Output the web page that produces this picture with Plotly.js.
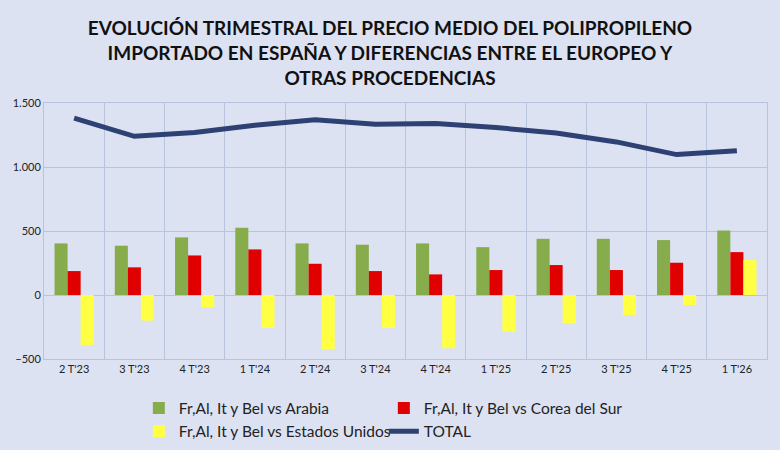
<!DOCTYPE html>
<html>
<head>
<meta charset="utf-8">
<script src="https://cdn.plot.ly/plotly-3.0.1.min.js"></script>
<style>
  body { margin: 0; background: #dde2f3; }
  #chart { width: 780px; height: 450px; }
</style>
</head>
<body>
<div id="chart"></div>
<script>
// Trimestres
var quarters = ["2 T'23", "3 T'23", "4 T'23", "1 T'24", "2 T'24", "3 T'24",
                "4 T'24", "1 T'25", "2 T'25", "3 T'25", "4 T'25", "1 T'26"];

// Diferencias (Fr, Al, It y Bel frente a otras procedencias)
var vsArabia = [403, 385, 450, 525, 403, 393, 403, 374, 439, 439, 429, 504];
var vsCorea = [187, 216, 309, 356, 244, 187, 161, 195, 234, 195, 252, 335];
var vsEEUU = [-390, -200, -96, -257, -424, -257, -416, -286, -221, -156, -78, 273];

// Precio medio total
var total = [1381, 1240, 1269, 1326, 1370, 1334, 1339, 1308, 1266, 1196, 1097, 1126];

var font = "Lato, 'Open Sans', sans-serif";

var data = [
  { x: quarters, y: vsArabia, type: 'bar', name: 'Fr,Al, It y Bel vs Arabia',
    marker: { color: '#86ac4c' } },
  { x: quarters, y: vsCorea, type: 'bar', name: 'Fr,Al, It y Bel vs Corea del Sur',
    marker: { color: '#e00000' } },
  { x: quarters, y: vsEEUU, type: 'bar', name: 'Fr,Al, It y Bel vs Estados Unidos',
    marker: { color: '#ffff44' } },
  { x: quarters, y: total, type: 'scatter', mode: 'lines', name: 'TOTAL',
    line: { color: '#2e4174', width: 5 } }
];

var layout = {
  width: 780,
  height: 450,
  paper_bgcolor: '#dde2f3',
  plot_bgcolor: '#dde2f3',
  separators: ',.',
  margin: { l: 44, r: 13, t: 103, b: 91 },
  font: { family: font, size: 11, color: '#222' },
  title: {
    text: 'EVOLUCIÓN TRIMESTRAL DEL PRECIO MEDIO DEL POLIPROPILENO<br>IMPORTADO EN ESPAÑA Y DIFERENCIAS ENTRE EL EUROPEO Y<br>OTRAS PROCEDENCIAS',
    font: { family: font, size: 19, color: '#111', weight: 'bold' },
    x: 0.5, xanchor: 'center', y: 0.922, yanchor: 'top'
  },
  barmode: 'group',
  bargap: 0.35,
  bargroupgap: 0,
  xaxis: {
    type: 'category',
    tickson: 'boundaries',
    showgrid: true,
    gridcolor: '#b8c4dd',
    gridwidth: 1,
    ticks: '',
    showline: true,
    linecolor: '#b8c4dd',
    mirror: true,
    tickfont: { size: 11, color: '#222' }
  },
  yaxis: {
    range: [-500, 1500],
    dtick: 500,
    tick0: 0,
    separatethousands: true,
    showgrid: true,
    gridcolor: '#b8c4dd',
    zeroline: true,
    zerolinecolor: '#b8c4dd',
    zerolinewidth: 1,
    showline: true,
    linecolor: '#b8c4dd',
    mirror: true,
    ticks: '',
    tickfont: { size: 11, color: '#222' }
  },
  showlegend: true,
  legend: {
    orientation: 'h',
    xref: 'container', yref: 'container',
    x: 0.178, xanchor: 'left',
    y: 0.13, yanchor: 'top',
    entrywidth: 200,
    entrywidthmode: 'pixels',
    font: { size: 15.5, color: '#222' },
    bgcolor: 'rgba(0,0,0,0)',
    traceorder: 'normal',
    itemwidth: 30
  }
};

Plotly.newPlot('chart', data, layout, { displayModeBar: false });
</script>
</body>
</html>
